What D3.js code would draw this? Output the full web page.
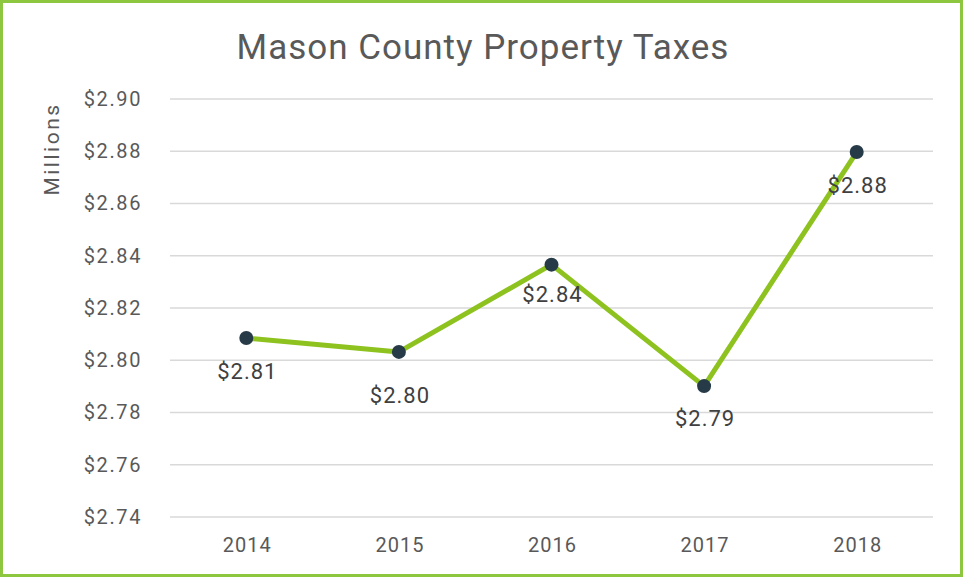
<!DOCTYPE html>
<html>
<head>
<meta charset="utf-8">
<script src="https://cdn.jsdelivr.net/npm/d3@7"></script>
<style>
  body { margin: 0; background: #fff; }
  svg text { font-family: Roboto, "Open Sans", sans-serif; }
</style>
</head>
<body>
<svg id="chart" width="963" height="577"></svg>
<script>
// data (millions)
var years = ["2014", "2015", "2016", "2017", "2018"];
var taxes = [2.8085, 2.8032, 2.8366, 2.7901, 2.8797];
var labels = ["$2.81", "$2.80", "$2.84", "$2.79", "$2.88"];
var yTicks = [2.74, 2.76, 2.78, 2.80, 2.82, 2.84, 2.86, 2.88, 2.90];
// label offsets below the point, moved by hand in the original
var labelDy = [33, 43, 30, 32, 33];

var svg = d3.select("#chart");
var width = 963, height = 577;
var margin = {top: 99, right: 30, bottom: 60, left: 170};

// outer green frame
svg.append("rect")
    .attr("x", 1.5).attr("y", 1.5)
    .attr("width", width - 3).attr("height", height - 3)
    .attr("fill", "#fff")
    .attr("stroke", "#8dc63f")
    .attr("stroke-width", 3);

var x = d3.scaleBand()
    .domain(years)
    .range([margin.left, 933]);

var y = d3.scaleLinear()
    .domain([2.74, 2.90])
    .range([517, 99]);

// gridlines
svg.append("g")
    .selectAll("line").data(yTicks)
    .enter().append("line")
      .attr("x1", margin.left).attr("x2", 933)
      .attr("y1", function(d){ return y(d); })
      .attr("y2", function(d){ return y(d); })
      .attr("stroke", "#d9d9d9")
      .attr("stroke-width", 1.5);

// y axis labels
var yAxis = svg.append("g")
    .attr("transform", "translate(142,0)")
    .call(d3.axisLeft(y).tickValues(yTicks).tickSize(0).tickPadding(0)
        .tickFormat(function(d){ return "$" + d3.format(".2f")(d); }));
yAxis.select(".domain").remove();
yAxis.selectAll("text")
    .attr("fill", "#595959")
    .style("font-size", "20px")
    .style("letter-spacing", "1.6px");

// x axis labels
var xAxis = svg.append("g")
    .attr("transform", "translate(1,538)")
    .call(d3.axisBottom(x).tickSize(0).tickPadding(0));
xAxis.select(".domain").remove();
xAxis.selectAll("text")
    .attr("fill", "#595959")
    .attr("dy", "0.71em")
    .style("font-size", "20px")
    .style("letter-spacing", "1px");

// line
var line = d3.line()
    .x(function(d, i){ return x(years[i]) + x.bandwidth()/2; })
    .y(function(d){ return y(d); });

svg.append("path")
    .datum(taxes)
    .attr("d", line)
    .attr("fill", "none")
    .attr("stroke", "#8dc21f")
    .attr("stroke-width", 5)
    .attr("stroke-linejoin", "round");

// markers
svg.append("g")
    .selectAll("circle").data(taxes)
    .enter().append("circle")
      .attr("cx", function(d, i){ return x(years[i]) + x.bandwidth()/2; })
      .attr("cy", function(d){ return y(d); })
      .attr("r", 7)
      .attr("fill", "#263a48");

// data labels
svg.append("g")
    .selectAll("text").data(taxes)
    .enter().append("text")
      .attr("x", function(d, i){ return x(years[i]) + x.bandwidth()/2 + 1; })
      .attr("y", function(d, i){ return y(d) + labelDy[i]; })
      .attr("dy", "0.35em")
      .attr("text-anchor", "middle")
      .attr("fill", "#404040")
      .style("font-size", "22px")
      .style("letter-spacing", "1px")
      .text(function(d, i){ return labels[i]; });

// title
svg.append("text")
    .attr("x", 483).attr("y", 59)
    .attr("text-anchor", "middle")
    .attr("fill", "#595959")
    .style("font-size", "35px")
    .style("letter-spacing", "1px")
    .text("Mason County Property Taxes");

// y axis title
svg.append("text")
    .attr("transform", "translate(52,149) rotate(-90)")
    .attr("text-anchor", "middle")
    .attr("dy", "0.35em")
    .attr("fill", "#595959")
    .style("font-size", "21px")
    .style("letter-spacing", "2.5px")
    .text("Millions");
</script>
</body>
</html>
